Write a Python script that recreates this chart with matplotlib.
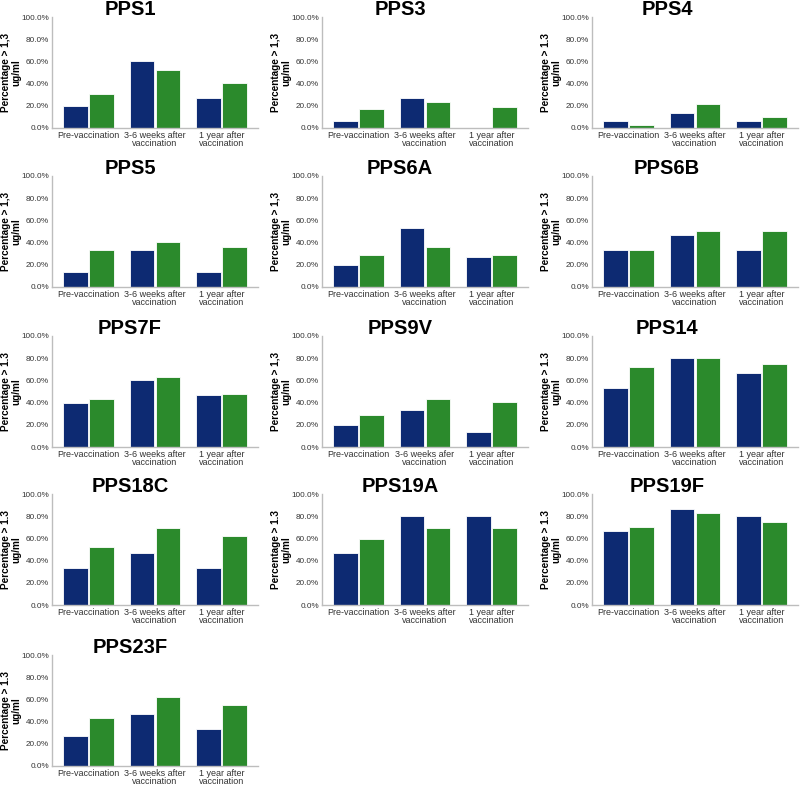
import matplotlib.pyplot as plt
import numpy as np
from matplotlib.ticker import FuncFormatter

plt.rcParams['font.family'] = ['Liberation Sans', 'DejaVu Sans']

# Data (percent with level > 1.3 ug/ml)
titles = ["PPS1", "PPS3", "PPS4", "PPS5", "PPS6A", "PPS6B", "PPS7F",
          "PPS9V", "PPS14", "PPS18C", "PPS19A", "PPS19F", "PPS23F"]
blue_vals = [
    [20.0, 60.0, 26.7],
    [6.7, 26.7, 0.0],
    [6.7, 13.3, 6.7],
    [13.3, 33.3, 13.3],
    [20.0, 53.3, 26.7],
    [33.3, 46.7, 33.3],
    [40.0, 60.0, 46.7],
    [20.0, 33.3, 13.3],
    [53.3, 80.0, 66.7],
    [33.3, 46.7, 33.3],
    [46.7, 80.0, 80.0],
    [66.7, 86.7, 80.0],
    [26.7, 46.7, 33.3],
]
green_vals = [
    [31.0, 52.4, 40.5],
    [16.7, 23.8, 19.0],
    [2.4, 21.4, 9.5],
    [33.3, 40.5, 35.7],
    [28.6, 35.7, 28.6],
    [33.3, 50.0, 50.0],
    [42.9, 63.4, 47.6],
    [28.6, 42.9, 40.5],
    [72.5, 80.0, 75.0],
    [52.4, 69.0, 61.9],
    [59.5, 69.0, 69.0],
    [70.0, 82.5, 75.0],
    [42.9, 61.9, 54.8],
]
categories = ["Pre-vaccination", "3-6 weeks after\nvaccination", "1 year after\nvaccination"]
categories_9v = ["Pre-vaccination", "3-6 weeks afer\nvaccination", "1 year after\nvaccination"]
ylabels_comma = {"PPS1", "PPS3", "PPS5", "PPS6A", "PPS9V"}

BLUE = "#0d2a72"
GREEN = "#2b8a2c"
AXC = "#bdbdbd"

W, H = 800, 785
fig = plt.figure(figsize=(W / 100, H / 100), dpi=100)

col_left = [52, 322, 592]
title_cx = [130, 400, 667]
row_bottom = [128, 287, 447, 605, 766]
ax_w, ax_h = 206, 111

x = np.arange(3)
bw = 0.37
for i, name in enumerate(titles):
    r, c = divmod(i, 3)
    left = col_left[c] / W
    bottom = 1 - row_bottom[r] / H
    ax = fig.add_axes([left, bottom, ax_w / W, ax_h / H])
    ax.bar(x - 0.195, blue_vals[i], bw, color=BLUE, edgecolor="white", linewidth=0.6)
    ax.bar(x + 0.195, green_vals[i], bw, color=GREEN, edgecolor="white", linewidth=0.6)
    ax.set_xlim(-0.55, 2.55)
    ax.set_ylim(0, 100)
    ax.set_yticks(np.arange(0, 101, 20))
    ax.yaxis.set_major_formatter(FuncFormatter(lambda v, p: f"{v:.1f}%"))
    ax.set_xticks(x)
    ax.set_xticklabels(categories_9v if name == "PPS9V" else categories,
                       fontsize=6.5, color="#333333", linespacing=0.95)
    ax.tick_params(axis="y", labelsize=5.9, labelcolor="#333333", length=0, pad=2)
    ax.tick_params(axis="x", length=0, pad=2)
    for s in ("top", "right"):
        ax.spines[s].set_visible(False)
    for s in ("left", "bottom"):
        ax.spines[s].set_color(AXC)
        ax.spines[s].set_linewidth(1.0)
    sep = "1,3" if name in ylabels_comma else "1.3"
    ax.set_ylabel(f"Percentage > {sep}\nug/ml", fontsize=7.2, fontweight="bold",
                  linespacing=0.95)
    ax.yaxis.set_label_coords(-31 / ax_w, 0.5)
    top_px = row_bottom[r] - ax_h
    fig.text(title_cx[c] / W, 1 - (top_px - 2) / H, name, fontsize=14.5,
             fontweight="bold", ha="center", va="baseline")

fig.savefig("out.png", dpi=100, facecolor="white")
